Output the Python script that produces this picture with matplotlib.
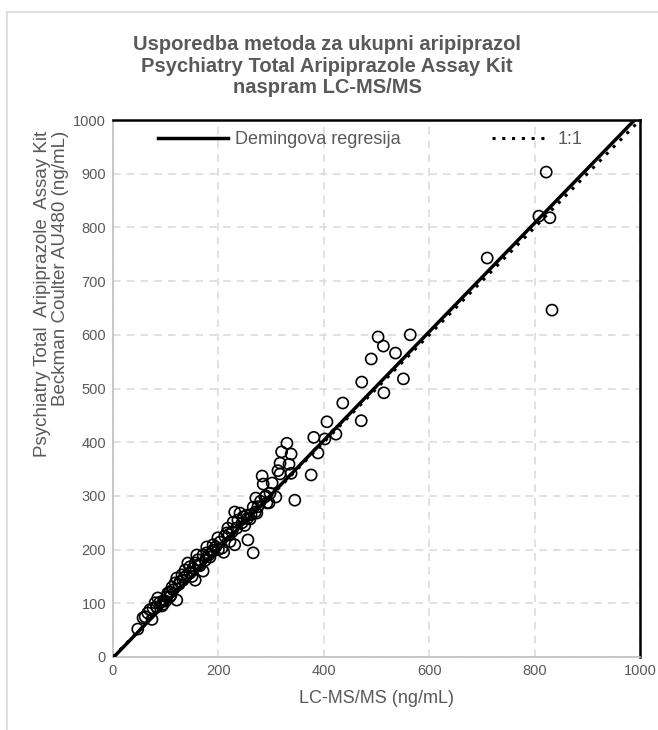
import matplotlib
matplotlib.use("Agg")
import matplotlib.pyplot as plt
import numpy as np
from matplotlib.lines import Line2D

plt.rcParams['font.family'] = ['Liberation Sans', 'DejaVu Sans']

lcms = [47, 57, 61, 66, 70, 74, 76, 80, 83, 85, 89, 93, 95, 96, 100, 102, 104, 108, 108, 110,
        112, 114, 118, 121, 121, 125, 127, 131, 133, 135, 137, 140, 142, 146, 146, 150, 152, 156,
        156, 159, 161, 163, 165, 171, 171, 175, 178, 178, 182, 184, 188, 190, 190, 195, 199, 200,
        203, 207, 210, 212, 216, 218, 220, 222, 226, 228, 231, 231, 235, 237, 241, 245, 247, 250,
        254, 255, 256, 260, 262, 266, 266, 270, 273, 271, 275, 280, 283, 285, 288, 290, 292, 296,
        298, 302, 309, 313, 317, 317, 320, 330, 334, 338, 338, 345, 376, 381, 389, 402, 406, 423,
        436, 471, 472, 490, 503, 513, 514, 536, 551, 564, 710, 808, 822, 829, 833]
au480 = [52, 73, 75, 82, 88, 70, 91, 101, 93, 110, 102, 95, 98, 105, 104, 112, 119, 121, 112, 115,
         130, 125, 138, 106, 147, 135, 140, 153, 143, 148, 162, 152, 175, 168, 156, 150, 165, 175,
         143, 190, 181, 172, 170, 190, 160, 180, 194, 205, 190, 186, 196, 209, 199, 205, 222, 200,
         214, 203, 195, 225, 231, 240, 228, 215, 233, 251, 209, 270, 240, 255, 268, 250, 261, 245,
         264, 258, 218, 257, 265, 194, 279, 270, 268, 296, 280, 290, 337, 322, 298, 300, 287, 287,
         305, 324, 298, 347, 361, 341, 382, 398, 359, 378, 342, 292, 339, 409, 380, 406, 438, 415,
         473, 440, 512, 555, 596, 579, 492, 566, 518, 600, 743, 821, 903, 818, 646]

deming_slope = 1.012
deming_intercept = -1.5
line_x = [0, 1000]

xticks = [0, 200, 400, 600, 800, 1000]
yticks = [0, 100, 200, 300, 400, 500, 600, 700, 800, 900, 1000]

gray_text = '#595959'

fig = plt.figure(figsize=(6.58, 7.30), dpi=100)
ax = fig.add_axes([0.1717, 0.1, 0.801, 0.7356])

ax.set_xlim(0, 1000)
ax.set_ylim(0, 1000)
ax.set_xticks(xticks)
ax.set_yticks(yticks)
ax.grid(True, color='#d9d9d9', linestyle=(0, (5, 4)), linewidth=1.1)
ax.set_axisbelow(True)
ax.tick_params(length=0, labelsize=10.5, labelcolor=gray_text, pad=5)

for s in ['left', 'bottom']:
    ax.spines[s].set_color('#bfbfbf')
    ax.spines[s].set_linewidth(1.2)
for s in ['top', 'right']:
    ax.spines[s].set_color('black')
    ax.spines[s].set_linewidth(1.8)

ax.scatter(lcms, au480, s=64, facecolors='none', edgecolors='black', linewidths=1.2, zorder=3)

lx = np.array(line_x, dtype=float)
ax.plot(lx, deming_slope * lx + deming_intercept, color='black', lw=2.5, zorder=4,
        solid_capstyle='butt')
ax.plot(lx, lx, color='black', lw=2.2, linestyle=(0, (1, 2.2)), zorder=4)

h1 = Line2D([], [], color='black', lw=2.5)
h2 = Line2D([], [], color='black', lw=2.2, linestyle=(0, (1, 2.2)))
leg1 = ax.legend([h1], ['Demingova regresija'], frameon=False,
                 loc='center left', bbox_to_anchor=(0.0854, 0.963), fontsize=13,
                 handlelength=3.9, handletextpad=0.39, borderpad=0,
                 labelcolor=gray_text, borderaxespad=0)
ax.add_artist(leg1)
leg2 = ax.legend([h2], ['1:1'], frameon=False,
                 loc='center left', bbox_to_anchor=(0.719, 0.963), fontsize=13,
                 handlelength=3.15, handletextpad=0.5, borderpad=0,
                 labelcolor=gray_text, borderaxespad=0)

ax.set_xlabel('LC-MS/MS (ng/mL)', fontsize=13, color=gray_text, labelpad=9)
ax.set_ylabel('Psychiatry Total  Aripiprazole  Assay Kit\nBeckman Coulter AU480 (ng/mL)',
              fontsize=13.5, color=gray_text, linespacing=1.05, multialignment='right')
ax.yaxis.set_label_coords(-0.084, 0.676)

fig.text(0.497, 0.909,
         'Usporedba metoda za ukupni aripiprazol\nPsychiatry Total Aripiprazole Assay Kit\nnaspram LC-MS/MS',
         ha='center', va='center', fontsize=14.5, fontweight='bold', color=gray_text, linespacing=1.17)

fig.add_artist(Line2D([7 / 658, 1], [1 - 12 / 730, 1 - 12 / 730], color='#d9d9d9', lw=1.2,
                      transform=fig.transFigure))
fig.add_artist(Line2D([7 / 658, 7 / 658], [0, 1 - 12 / 730], color='#d9d9d9', lw=1.2,
                      transform=fig.transFigure))

fig.savefig('out.png', dpi=100)
